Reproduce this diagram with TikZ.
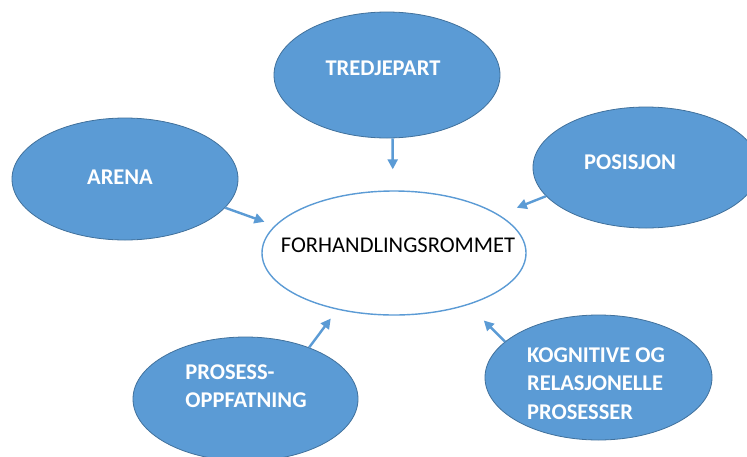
\documentclass[tikz,border=0pt]{standalone}
\usepackage{fontspec}
\setmainfont{Carlito}
\usetikzlibrary{shapes.geometric,arrows.meta}
\definecolor{bubfill}{HTML}{5B9BD5}
\definecolor{bubline}{HTML}{41719C}
\tikzset{
  bubble/.style={ellipse, fill=bubfill, draw=bubline, line width=0.8pt, inner sep=0pt},
  hub/.style={ellipse, fill=white, draw=bubfill, line width=1.4pt, inner sep=0pt},
  lbl/.style={text=white, font=\fontsize{22.5}{28.5}\selectfont\bfseries, inner sep=0pt, align=left},
  hublbl/.style={text=black, font=\fontsize{22.5}{28.5}\selectfont, inner sep=0pt},
  link/.style={draw=bubfill, line width=2.4pt, -{Triangle[length=10pt,width=10pt]}}
}
\begin{document}
\begin{tikzpicture}[x=1pt,y=-1pt]
\useasboundingbox (0,0) rectangle (747,456);
\clip (0,0) rectangle (747,456);
\fill[white] (0,0) rectangle (747,456);

% outer bubbles
\node[bubble, minimum width=226pt, minimum height=126pt] (tre) at (387,75) {};
\node[bubble, minimum width=226pt, minimum height=122pt] (are) at (125,179) {};
\node[bubble, minimum width=226pt, minimum height=121pt] (pos) at (646,167.5) {};
\node[bubble, minimum width=225pt, minimum height=124pt] (pro) at (245.5,399) {};
\node[bubble, minimum width=227pt, minimum height=125pt] (kog) at (598.5,377.5) {};

% central bubble
\node[hub, minimum width=264pt, minimum height=124pt] (ctr) at (394,253) {};

% labels
\node[lbl] (treT) at (383,68) {TREDJEPART};
\node[lbl] (areT) at (120,177) {ARENA};
\node[lbl] (posT) at (630,162) {POSISJON};
\node[lbl] (proT) at (246,386) {PROSESS-\\OPPFATNING};
\node[lbl] (kogT) at (596,383.5) {KOGNITIVE OG\\RELASJONELLE\\PROSESSER};
\node[hublbl] (ctrT) at (398,245) {FORHANDLINGSROMMET};

% arrows towards the centre
\draw[link, shorten >=21pt] (tre.275) -- (ctr.91);
\draw[link, shorten >=11pt] (are.-16.4) -- (ctr.167.7);
\draw[link, shorten >=19pt] (pos.196.5) -- (ctr.20.5);
\draw[link, shorten >=11pt] (pro.39.7) -- (ctr.225.5);
\draw[link, shorten >=22pt] (kog.159.2) -- (ctr.325);
\end{tikzpicture}
\end{document}
